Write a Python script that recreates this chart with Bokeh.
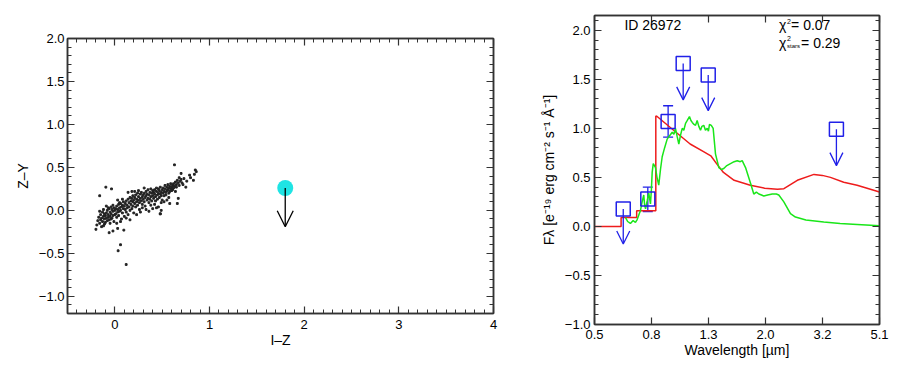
from bokeh.plotting import figure
from bokeh.layouts import row, column
from bokeh.models import (ColumnDataSource, Arrow, OpenHead, Whisker, TeeHead, Label,
                          LinearAxis, LogAxis, FixedTicker, Range1d, CustomJSTickFormatter)
from bokeh.embed import file_html
from bokeh.resources import INLINE

FONT = "Liberation Sans"

# ---------------- left panel data (I-Z vs Z-Y) ----------------
iz = [-0.18,-0.17,-0.16,-0.15,-0.15,-0.14,-0.13,-0.13,-0.12,-0.12,-0.11,-0.11,-0.10,-0.10,-0.19,-0.16,-0.14,-0.12,-0.11,
      -0.09,-0.09,-0.08,-0.08,-0.07,-0.07,-0.06,-0.06,-0.05,-0.05,-0.04,-0.04,-0.03,-0.03,-0.02,-0.02,-0.01,-0.01,0.00,0.00,-0.09,-0.05,-0.02,-0.07,-0.04,
      0.01,0.01,0.02,0.02,0.03,0.03,0.04,0.04,0.05,0.05,0.06,0.06,0.07,0.07,0.08,0.08,0.09,0.09,0.10,0.10,0.03,0.06,0.08,0.02,0.05,
      0.11,0.11,0.12,0.12,0.13,0.13,0.14,0.14,0.15,0.15,0.16,0.16,0.17,0.17,0.18,0.18,0.19,0.19,0.20,0.20,0.14,0.18,0.12,0.16,0.19,
      0.21,0.21,0.22,0.22,0.23,0.23,0.24,0.24,0.25,0.25,0.26,0.26,0.27,0.27,0.28,0.28,0.29,0.29,0.30,0.30,0.23,0.27,0.25,0.21,0.29,
      0.31,0.31,0.32,0.32,0.33,0.33,0.34,0.34,0.35,0.35,0.36,0.36,0.37,0.37,0.38,0.38,0.39,0.39,0.40,0.40,0.33,0.36,0.38,0.31,0.40,
      0.41,0.41,0.42,0.42,0.43,0.43,0.44,0.44,0.45,0.45,0.46,0.46,0.47,0.47,0.48,0.48,0.49,0.49,0.50,0.50,0.46,0.48,0.42,0.44,0.49,
      0.51,0.51,0.52,0.52,0.53,0.53,0.54,0.54,0.55,0.55,0.56,0.56,0.57,0.57,0.58,0.58,0.59,0.59,0.60,0.60,0.55,0.58,0.52,0.57,
      0.61,0.61,0.62,0.62,0.63,0.63,0.64,0.64,0.65,0.65,0.66,0.66,0.67,0.67,0.68,0.68,0.69,0.70,0.70,0.71,0.72,0.73,0.75,0.76,0.79,0.80,0.83,0.85,0.86,0.84,
      -0.16,-0.095,-0.035,-0.20,-0.06,-0.02,0.03,0.095,0.06,0.035,0.12,0.48,0.49]
zy = [-0.12,-0.08,-0.15,-0.05,-0.11,-0.09,-0.02,-0.13,-0.07,-0.18,-0.04,-0.10,-0.06,-0.14,-0.17,-0.01,-0.19,0.01,-0.16,
      -0.03,-0.09,0.00,-0.12,-0.05,-0.08,0.02,-0.11,-0.02,-0.07,0.04,-0.04,-0.09,0.01,-0.01,-0.06,0.03,-0.13,0.00,-0.05,0.05,-0.15,0.06,0.03,-0.10,
      0.02,-0.04,0.05,-0.08,0.01,-0.02,0.07,-0.06,0.03,-0.01,0.08,0.00,-0.10,0.04,0.06,-0.03,0.10,0.02,0.05,-0.07,0.12,-0.13,0.13,-0.15,0.09,
      0.08,0.01,0.11,-0.02,0.06,0.03,0.13,-0.05,0.09,0.04,0.15,0.00,0.07,0.11,0.02,0.14,0.10,0.05,0.12,-0.03,0.21,0.22,-0.09,-0.11,0.17,
      0.08,0.15,0.04,0.18,0.10,0.13,0.06,0.20,0.12,0.16,0.09,0.01,0.14,0.19,0.11,0.21,0.07,0.16,0.13,0.18,-0.05,-0.02,0.23,0.22,0.03,
      0.10,0.20,0.15,0.05,0.17,0.22,0.12,0.19,0.14,0.24,0.09,0.18,0.21,0.13,0.16,0.25,0.11,0.20,0.17,0.23,0.01,-0.01,0.06,0.26,0.02,
      0.14,0.21,0.19,0.24,0.16,0.11,0.22,0.26,0.18,0.13,0.20,0.25,0.15,0.23,0.19,0.27,0.21,0.17,0.24,0.12,0.04,-0.04,0.07,0.03,0.09,
      0.20,0.26,0.22,0.17,0.25,0.29,0.21,0.18,0.27,0.23,0.24,0.30,0.20,0.26,0.28,0.22,0.25,0.31,0.27,0.23,0.12,0.08,0.10,0.15,
      0.29,0.24,0.31,0.26,0.28,0.53,0.33,0.22,0.30,0.27,0.35,0.08,0.14,0.32,0.38,0.29,0.34,0.43,0.36,0.32,0.30,0.37,0.27,0.34,0.41,0.38,0.35,0.47,0.45,0.42,
      0.17,0.27,0.25,-0.22,-0.26,-0.24,-0.21,-0.23,-0.40,-0.47,-0.63,-0.04,0.00]

obj_iz = [1.80]
obj_zy = [0.26]
obj_zy_limit = [-0.19]

left_xticks = [0, 1, 2, 3, 4]
left_yticks = [-1.0, -0.5, 0.0, 0.5, 1.0, 1.5, 2.0]

# ---------------- right panel data (SED) ----------------
wl_ticks = [0.5, 0.7956, 1.2660, 2.0144, 3.2054, 5.1]
wl_labels = ["0.5", "0.8", "1.3", "2.0", "3.2", "5.1"]
flux_ticks = [-1.0, -0.5, 0.0, 0.5, 1.0, 1.5, 2.0]

model_wl = [0.5, 0.621, 0.621, 0.705, 0.705, 0.824, 0.824, 0.833, 0.981, 1.09, 1.22, 1.29, 1.36, 1.43,
            1.56, 1.78, 2.0, 2.22, 2.34, 2.61, 2.99, 3.2, 3.42, 3.81, 4.25, 5.1]
model_flux = [0.0, 0.0, 0.09, 0.09, 0.16, 0.16, 1.125, 1.12, 0.95, 0.84, 0.76, 0.72, 0.63, 0.55,
              0.47, 0.42, 0.39, 0.38, 0.385, 0.47, 0.53, 0.52, 0.50, 0.45, 0.42, 0.35]

star_wl = [0.644, 0.655, 0.670, 0.685, 0.698, 0.708, 0.718, 0.727, 0.737, 0.747, 0.752, 0.758, 0.768, 0.778,
           0.789, 0.795, 0.800, 0.807, 0.815, 0.822, 0.832, 0.844, 0.856, 0.868, 0.885, 0.904, 0.925, 0.942,
           0.955, 0.967, 0.980, 0.994, 1.008, 1.022, 1.035, 1.050, 1.065, 1.084, 1.097, 1.109, 1.125, 1.139,
           1.154, 1.170, 1.186, 1.200, 1.218, 1.235, 1.253, 1.265, 1.276, 1.295, 1.315, 1.340, 1.377, 1.405,
           1.434, 1.470, 1.514, 1.560, 1.600, 1.640, 1.666, 1.712, 1.783, 1.831, 1.870, 1.908, 1.950, 1.987,
           2.05, 2.128, 2.200, 2.245, 2.339, 2.469, 2.571, 2.8, 3.239, 3.7, 4.253, 5.1]
star_flux = [0.09, 0.05, 0.03, 0.06, 0.04, 0.07, 0.12, 0.16, 0.25, 0.32, 0.22, 0.18, 0.26, 0.34,
             0.23, 0.38, 0.55, 0.64, 0.62, 0.60, 0.50, 0.42, 0.58, 0.71, 0.80, 0.89, 0.93, 0.96,
             0.94, 1.00, 0.92, 0.84, 0.93, 1.00, 0.98, 1.05, 1.08, 1.12, 1.08, 1.06, 1.04, 1.03,
             1.08, 1.02, 0.98, 1.02, 1.03, 0.98, 1.00, 0.97, 1.04, 1.03, 1.00, 0.74, 0.60, 0.58,
             0.59, 0.62, 0.64, 0.66, 0.67, 0.66, 0.67, 0.60, 0.44, 0.33, 0.35, 0.33, 0.32, 0.31,
             0.32, 0.33, 0.33, 0.32, 0.25, 0.13, 0.095, 0.065, 0.045, 0.03, 0.02, 0.007]

det_wl = [0.772, 0.911]
det_flux = [0.28, 1.07]
det_lo = [0.15, 0.91]
det_hi = [0.40, 1.23]

lim_wl = [0.632, 1.03, 1.263, 3.59]
lim_flux = [0.177, 1.66, 1.544, 0.99]
lim_tip = [-0.18, 1.29, 1.18, 0.62]

BLUE = "#2020e8"
AX = "#333333"


def style_axis(ax, show_labels=True, minor=True):
    ax.major_tick_in = 7
    ax.major_tick_out = 0
    ax.minor_tick_in = 4 if minor else 0
    ax.minor_tick_out = 0
    ax.axis_line_color = AX
    ax.axis_line_width = 1.5
    ax.major_tick_line_color = AX
    ax.major_tick_line_width = 1.2
    ax.minor_tick_line_color = AX
    ax.minor_tick_line_width = 1.0
    ax.major_label_text_font = FONT
    ax.major_label_text_font_size = "13px"
    ax.major_label_text_color = "black"
    ax.axis_label_text_font = FONT
    ax.axis_label_text_font_size = "14px"
    ax.axis_label_text_font_style = "normal"
    ax.axis_label_text_color = "black"
    if not show_labels:
        ax.major_label_standoff = 0
        ax.major_label_text_font_size = "1px"
        ax.formatter = CustomJSTickFormatter(code="return '';")


minus_fmt = "return tick.toFixed(1).replace('-', '\u2212');"

# ---------------- left figure ----------------
p1 = figure(width=513, height=362, x_range=Range1d(-0.5, 4.0), y_range=Range1d(-1.2, 2.0),
            output_backend="svg", toolbar_location=None,
            min_border_left=67, min_border_right=20, min_border_top=38, min_border_bottom=49)
p1.xgrid.visible = False
p1.ygrid.visible = False
p1.outline_line_color = AX
p1.outline_line_width = 1.5

x_minor1 = [round(-0.5 + 0.1 * i, 2) for i in range(46)]
y_minor1 = [round(-1.2 + 0.1 * i, 2) for i in range(33)]
xt1 = FixedTicker(ticks=left_xticks, minor_ticks=x_minor1)
yt1 = FixedTicker(ticks=left_yticks, minor_ticks=y_minor1)

p1.xaxis.ticker = xt1
p1.yaxis.ticker = yt1
p1.xaxis.axis_label = "I\u2013Z"
p1.yaxis.axis_label = "Z\u2013Y"
p1.yaxis.formatter = CustomJSTickFormatter(code=minus_fmt)
for ax in p1.xaxis + p1.yaxis:
    style_axis(ax)
p1.xaxis.major_label_standoff = 6
p1.xaxis.axis_label_standoff = 0
p1.yaxis.major_label_standoff = 3
p1.yaxis.axis_label_standoff = 5

top1 = LinearAxis(ticker=xt1)
right1 = LinearAxis(ticker=yt1)
style_axis(top1, show_labels=False)
style_axis(right1, show_labels=False)
p1.add_layout(top1, "above")
p1.add_layout(right1, "right")

p1.scatter(iz, zy, marker="square", size=1.8, color="#222222")
p1.scatter(obj_iz, obj_zy, size=16, fill_color="#1fe4e4", line_color=None)
obj_src = ColumnDataSource(dict(x0=obj_iz, y0=obj_zy, x1=obj_iz, y1=obj_zy_limit))
p1.add_layout(Arrow(end=OpenHead(size=16, line_width=1.3, line_color="black"),
                    x_start="x0", y_start="y0", x_end="x1", y_end="y1", source=obj_src,
                    line_width=1.3, line_color="black"))

# ---------------- right figure ----------------
p2 = figure(width=376, height=362, x_axis_type="log",
            x_range=Range1d(0.5, 5.1), y_range=Range1d(-1.0, 2.15),
            output_backend="svg", toolbar_location=None,
            min_border_left=81, min_border_right=10, min_border_top=15, min_border_bottom=38)
p2.xgrid.visible = False
p2.ygrid.visible = False
p2.outline_line_color = AX
p2.outline_line_width = 1.5

xt2 = FixedTicker(ticks=wl_ticks, minor_ticks=[])
y_minor2 = [round(-1.0 + 0.1 * i, 2) for i in range(32)]
yt2 = FixedTicker(ticks=flux_ticks, minor_ticks=y_minor2)
p2.xaxis.ticker = xt2
p2.yaxis.ticker = yt2
p2.xaxis.formatter = CustomJSTickFormatter(args=dict(tpos=wl_ticks, tlab=wl_labels), code="""
let best = 0;
for (let i = 0; i < tpos.length; i++) {
  if (Math.abs(Math.log(tpos[i]) - Math.log(tick)) < Math.abs(Math.log(tpos[best]) - Math.log(tick))) best = i;
}
return tlab[best];
""")
p2.yaxis.formatter = CustomJSTickFormatter(code=minus_fmt)
p2.xaxis.axis_label = "Wavelength [\u00b5m]"
p2.yaxis.axis_label = "F\u03bb [e\u207b\u00b9\u2079 erg cm\u207b\u00b2 s\u207b\u00b9 \u00c5\u207b\u00b9]"
for ax in p2.xaxis + p2.yaxis:
    style_axis(ax)
p2.xaxis.minor_tick_in = 0
p2.xaxis.major_label_standoff = 5
p2.xaxis.axis_label_standoff = 0
p2.yaxis.major_label_standoff = 4
p2.yaxis.axis_label_standoff = 5

top2 = LogAxis(ticker=xt2)
right2 = LinearAxis(ticker=yt2)
style_axis(top2, show_labels=False, minor=False)
style_axis(right2, show_labels=False)
p2.add_layout(top2, "above")
p2.add_layout(right2, "right")

p2.line(model_wl, model_flux, line_color="#ee1c1c", line_width=1.5)
p2.line(star_wl, star_flux, line_color="#19e619", line_width=1.5)

p2.scatter(det_wl + lim_wl, det_flux + lim_flux, marker="square", size=14,
           fill_color=None, line_color=BLUE, line_width=1.5)
err_src = ColumnDataSource(dict(x=det_wl, lo=det_lo, hi=det_hi))
p2.add_layout(Whisker(base="x", lower="lo", upper="hi", source=err_src, dimension="height",
                      line_color=BLUE, line_width=1.3,
                      lower_head=TeeHead(size=10, line_color=BLUE, line_width=1.3),
                      upper_head=TeeHead(size=10, line_color=BLUE, line_width=1.3)))
lim_src = ColumnDataSource(dict(x0=lim_wl, y0=lim_flux, x1=lim_wl, y1=lim_tip))
p2.add_layout(Arrow(end=OpenHead(size=13, line_width=1.3, line_color=BLUE),
                    x_start="x0", y_start="y0", x_end="x1", y_end="y1", source=lim_src,
                    line_width=1.3, line_color=BLUE))

txt = dict(text_font=FONT, text_color="black", text_baseline="middle")
CHI_X = 2.25
p2.add_layout(Label(x=0.638, y=2.05, text="ID 26972", text_font_size="14px", **txt))
p2.add_layout(Label(x=CHI_X, y=2.05, text="\u03c7", text_font_size="14px", **txt))
p2.add_layout(Label(x=CHI_X, y=2.05, x_offset=8, y_offset=4, text="2", text_font_size="7px", **txt))
p2.add_layout(Label(x=CHI_X, y=2.05, x_offset=12, text="=  0.07", text_font_size="14px", **txt))
p2.add_layout(Label(x=CHI_X, y=1.87, text="\u03c7", text_font_size="14px", **txt))
p2.add_layout(Label(x=CHI_X, y=1.87, x_offset=8, y_offset=4, text="2", text_font_size="7px", **txt))
p2.add_layout(Label(x=CHI_X, y=1.87, x_offset=8, y_offset=-3, text="stars", text_font_size="6px", **txt))
p2.add_layout(Label(x=CHI_X, y=1.87, x_offset=22, text="=  0.29", text_font_size="14px", **txt))

layout = row(column(p1), column(p2), spacing=0)
open("out.html", "w", encoding="utf-8").write(file_html(layout, INLINE))
